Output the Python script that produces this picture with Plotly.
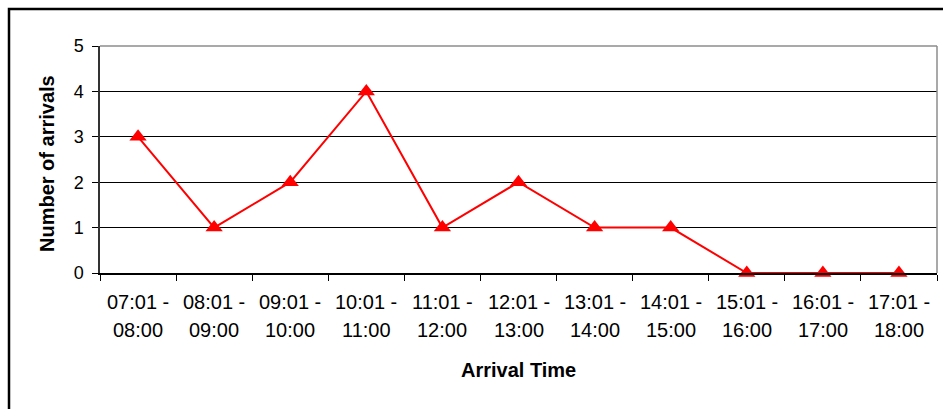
import plotly.graph_objects as go

# Hourly arrival windows and the number of arrivals in each
start_times = ["07:01", "08:01", "09:01", "10:01", "11:01", "12:01",
               "13:01", "14:01", "15:01", "16:01", "17:01"]
end_times = ["08:00", "09:00", "10:00", "11:00", "12:00", "13:00",
             "14:00", "15:00", "16:00", "17:00", "18:00"]
arrivals = [3, 1, 2, 4, 1, 2, 1, 1, 0, 0, 0]
y_ticks = [0, 1, 2, 3, 4, 5]

categories = [f"{s} - {e}" for s, e in zip(start_times, end_times)]

FONT = "Liberation Sans, Arial, sans-serif"

# Plot-area geometry in pixels (943 x 409 canvas)
W, H = 943, 409
L, R, T, B = 100, 6, 46, 136
pw, ph = W - L - R, H - T - B


def px_x(x):
    return (x - L) / pw


def px_y(y):
    return (H - B - y) / ph


fig = go.Figure()
fig.add_trace(go.Scatter(
    x=categories, y=arrivals, mode="lines+markers",
    line=dict(color="#ff0000", width=2),
    marker=dict(symbol="triangle-up", size=15, color="#ff0000"),
    cliponaxis=False, showlegend=False,
))

annotations = []
# Two-line category labels under the axis
for cat, s, e in zip(categories, start_times, end_times):
    annotations.append(dict(x=cat, xref="x", y=px_y(302), yref="paper",
                            text=f"{s} -", showarrow=False, yanchor="middle",
                            font=dict(family=FONT, size=20, color="#000")))
    annotations.append(dict(x=cat, xref="x", y=px_y(330), yref="paper",
                            text=e, showarrow=False, yanchor="middle",
                            font=dict(family=FONT, size=20, color="#000")))
# Axis titles
annotations.append(dict(x=0.5, xref="paper", y=px_y(370), yref="paper",
                        text="<b>Arrival Time</b>", showarrow=False,
                        yanchor="middle",
                        font=dict(family=FONT, size=20, color="#000")))
annotations.append(dict(x=px_x(47), xref="paper", y=px_y(163), yref="paper",
                        text="<b>Number of arrivals</b>", showarrow=False,
                        textangle=-90, xanchor="center", yanchor="middle",
                        font=dict(family=FONT, size=20, color="#000")))

shapes = [
    # outer chart frame (left and top edges visible)
    dict(type="rect", xref="paper", yref="paper",
         x0=px_x(9), x1=1.2, y0=-1.0, y1=px_y(9),
         line=dict(color="#000", width=2.5), layer="above"),
    # plot-area frame on top and right
    dict(type="line", xref="paper", yref="paper", x0=0, x1=1, y0=1, y1=1,
         line=dict(color="#8c8c8c", width=1.5), layer="above"),
    dict(type="line", xref="paper", yref="paper", x0=1, x1=1, y0=0, y1=1,
         line=dict(color="#8c8c8c", width=1.5), layer="above"),
]

fig.update_layout(
    width=W, height=H,
    margin=dict(l=L, r=R, t=T, b=B),
    paper_bgcolor="#fff", plot_bgcolor="#fff",
    font=dict(family=FONT, size=17, color="#000"),
    annotations=annotations, shapes=shapes,
    xaxis=dict(type="category", range=[-0.5, len(categories) - 0.5],
               tickson="boundaries", ticks="outside", ticklen=6,
               tickcolor="#000", showticklabels=False, showgrid=False,
               showline=True, linecolor="#000", linewidth=1.5,
               zeroline=False, fixedrange=True),
    yaxis=dict(range=[0, 5], tickvals=y_ticks, ticks="outside", ticklen=6,
               tickcolor="#000", showgrid=True, gridcolor="#000",
               gridwidth=1, showline=True, linecolor="#333", linewidth=1.5,
               zeroline=False, tickfont=dict(family=FONT, size=18),
               ticklabelstandoff=5, fixedrange=True),
)

fig.write_html("out.html")
